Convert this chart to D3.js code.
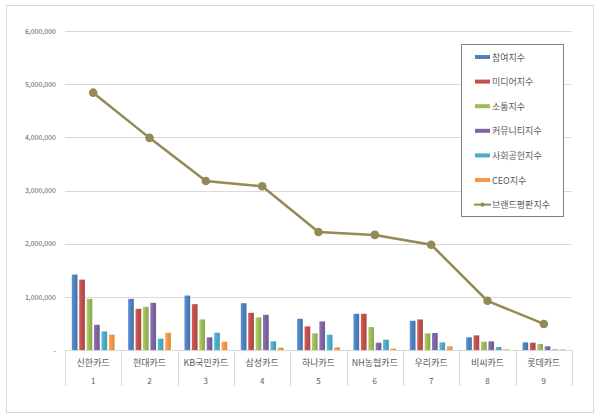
<!DOCTYPE html>
<html>
<head>
<meta charset="utf-8">
<script src="https://cdn.jsdelivr.net/npm/d3@7"></script>
<style>
  body { margin: 0; background: #fff; }
  svg text { font-family: "Noto Sans CJK KR", "Noto Sans", sans-serif; fill: #595959; }
</style>
</head>
<body>
<div id="chart"></div>
<script>
// card companies and rank
const cards = ['신한카드', '현대카드', 'KB국민카드', '삼성카드', '하나카드', 'NH농협카드', '우리카드', '비씨카드', '롯데카드'];
const ranks = ['1', '2', '3', '4', '5', '6', '7', '8', '9'];

// sub indices (bars)
const seriesNames = ['참여지수', '미디어지수', '소통지수', '커뮤니티지수', '사회공헌지수', 'CEO지수'];
const participation = [1418000, 962000, 1024000, 880000, 587000, 681000, 550000, 238000, 144000];
const media         = [1324000, 775000, 862000, 700000, 444000, 681000, 575000, 275000, 137000];
const communication = [962000, 812000, 575000, 612000, 312000, 431000, 312000, 156000, 112000];
const community     = [475000, 887000, 238000, 662000, 537000, 137000, 319000, 162000, 69000];
const social        = [350000, 213000, 325000, 162000, 287000, 194000, 144000, 56000, 12000];
const ceo           = [288000, 325000, 156000, 44000, 50000, 25000, 69000, 12000, 10000];

// brand reputation index (line)
const lineName = '브랜드평판지수';
const brandIndex = [4840000, 3990000, 3180000, 3080000, 2220000, 2165000, 1980000, 925000, 490000];

const yTicks = [0, 1000000, 2000000, 3000000, 4000000, 5000000, 6000000];

const barColors = ['#4f81bd', '#c0504d', '#9bbb59', '#8064a2', '#4bacc6', '#f79646'];
const lineColor = '#948a54';

const W = 600, H = 419;
const margin = {top: 31, right: 28, bottom: 69, left: 65};
const plotW = W - margin.left - margin.right;
const plotH = H - margin.top - margin.bottom;

const svg = d3.select('#chart').append('svg')
    .attr('width', W)
    .attr('height', H);

// outer frame
svg.append('rect')
    .attr('x', 6.5).attr('y', 5.5)
    .attr('width', 587).attr('height', 407)
    .attr('fill', '#fff')
    .attr('stroke', '#d9d9d9');

const g = svg.append('g').attr('transform', `translate(${margin.left},${margin.top})`);

// scales
const x0 = d3.scaleBand().domain(d3.range(cards.length)).range([0, plotW]).padding(0);
const x1 = d3.scaleBand().domain(d3.range(seriesNames.length))
    .range([0, x0.bandwidth()])
    .paddingInner(0.23)
    .paddingOuter(0.92);
const y = d3.scaleLinear().domain([0, 6000000]).range([plotH, 0]);

// gradients like the office bars
const defs = svg.append('defs');
barColors.forEach((c, i) => {
    const grad = defs.append('linearGradient')
        .attr('id', 'grad' + i)
        .attr('x1', '0%').attr('x2', '100%').attr('y1', '0%').attr('y2', '0%');
    grad.append('stop').attr('offset', '0%').attr('stop-color', d3.color(c).brighter(0.35));
    grad.append('stop').attr('offset', '45%').attr('stop-color', c);
    grad.append('stop').attr('offset', '100%').attr('stop-color', d3.color(c).darker(0.35));
});

// grid lines
g.append('g')
    .selectAll('line')
    .data(yTicks.slice(1))
    .join('line')
    .attr('x1', 0).attr('x2', plotW)
    .attr('y1', d => Math.round(y(d)) + 0.5)
    .attr('y2', d => Math.round(y(d)) + 0.5)
    .attr('stroke', '#d9d9d9');

// y axis labels
const yAxis = g.append('g')
    .call(d3.axisLeft(y).tickValues(yTicks).tickSize(0).tickPadding(9)
        .tickFormat(d => d === 0 ? '-' : d3.format(',')(d)));
yAxis.select('.domain').remove();
yAxis.selectAll('text').style('font-size', '7px').attr('fill', '#595959');

// bars
const allSeries = [participation, media, communication, community, social, ceo];
const groups = g.append('g')
    .selectAll('g')
    .data(cards.map((c, i) => i))
    .join('g')
    .attr('transform', i => `translate(${x0(i)},0)`);

groups.selectAll('rect')
    .data(i => allSeries.map((s, k) => ({k: k, v: s[i]})))
    .join('rect')
    .attr('x', d => x1(d.k))
    .attr('width', x1.bandwidth())
    .attr('y', d => y(d.v))
    .attr('height', d => plotH - y(d.v))
    .attr('fill', d => `url(#grad${d.k})`);

// x axis baseline and category separators
g.append('line')
    .attr('x1', 0).attr('x2', plotW)
    .attr('y1', plotH + 0.5).attr('y2', plotH + 0.5)
    .attr('stroke', '#d9d9d9');

g.append('g')
    .selectAll('line')
    .data(d3.range(cards.length + 1))
    .join('line')
    .attr('x1', i => Math.round(i * x0.step()) + 0.5)
    .attr('x2', i => Math.round(i * x0.step()) + 0.5)
    .attr('y1', plotH)
    .attr('y2', plotH + 36)
    .attr('stroke', '#d9d9d9');

g.append('g')
    .selectAll('text')
    .data(cards)
    .join('text')
    .attr('x', (d, i) => x0(i) + x0.bandwidth() / 2)
    .attr('y', plotH + 16)
    .attr('text-anchor', 'middle')
    .style('font-size', '9px')
    .text(d => d);

g.append('g')
    .selectAll('text')
    .data(ranks)
    .join('text')
    .attr('x', (d, i) => x0(i) + x0.bandwidth() / 2)
    .attr('y', plotH + 34)
    .attr('text-anchor', 'middle')
    .style('font-size', '8px')
    .text(d => d);

// line
const line = d3.line()
    .x((d, i) => x0(i) + x0.bandwidth() / 2)
    .y(d => y(d));

g.append('path')
    .datum(brandIndex)
    .attr('fill', 'none')
    .attr('stroke', lineColor)
    .attr('stroke-width', 2.5)
    .attr('d', line);

g.append('g')
    .selectAll('circle')
    .data(brandIndex)
    .join('circle')
    .attr('cx', (d, i) => x0(i) + x0.bandwidth() / 2)
    .attr('cy', d => y(d))
    .attr('r', 4.3)
    .attr('fill', lineColor);

// legend
const legend = svg.append('g').attr('transform', 'translate(461.5,44.5)');
legend.append('rect')
    .attr('width', 102).attr('height', 172)
    .attr('fill', '#fff')
    .attr('stroke', '#7f7f7f');

const legendItems = seriesNames.concat([lineName]);
const li = legend.selectAll('g.item')
    .data(legendItems)
    .join('g')
    .attr('class', 'item')
    .attr('transform', (d, i) => `translate(0,${12.5 + i * 24.6})`);

li.filter((d, i) => i < seriesNames.length)
    .append('rect')
    .attr('x', 13.5).attr('y', -2)
    .attr('width', 15).attr('height', 4)
    .attr('fill', (d, i) => barColors[i]);

const lastItem = li.filter((d, i) => i === seriesNames.length);
lastItem.append('line')
    .attr('x1', 12.5).attr('x2', 29.5)
    .attr('y1', 0).attr('y2', 0)
    .attr('stroke', lineColor).attr('stroke-width', 2);
lastItem.append('circle')
    .attr('cx', 21).attr('cy', 0).attr('r', 2.2)
    .attr('fill', lineColor);

li.append('text')
    .attr('x', 30.5)
    .attr('y', 3.5)
    .style('font-size', '9px')
    .text(d => d);
</script>
</body>
</html>
